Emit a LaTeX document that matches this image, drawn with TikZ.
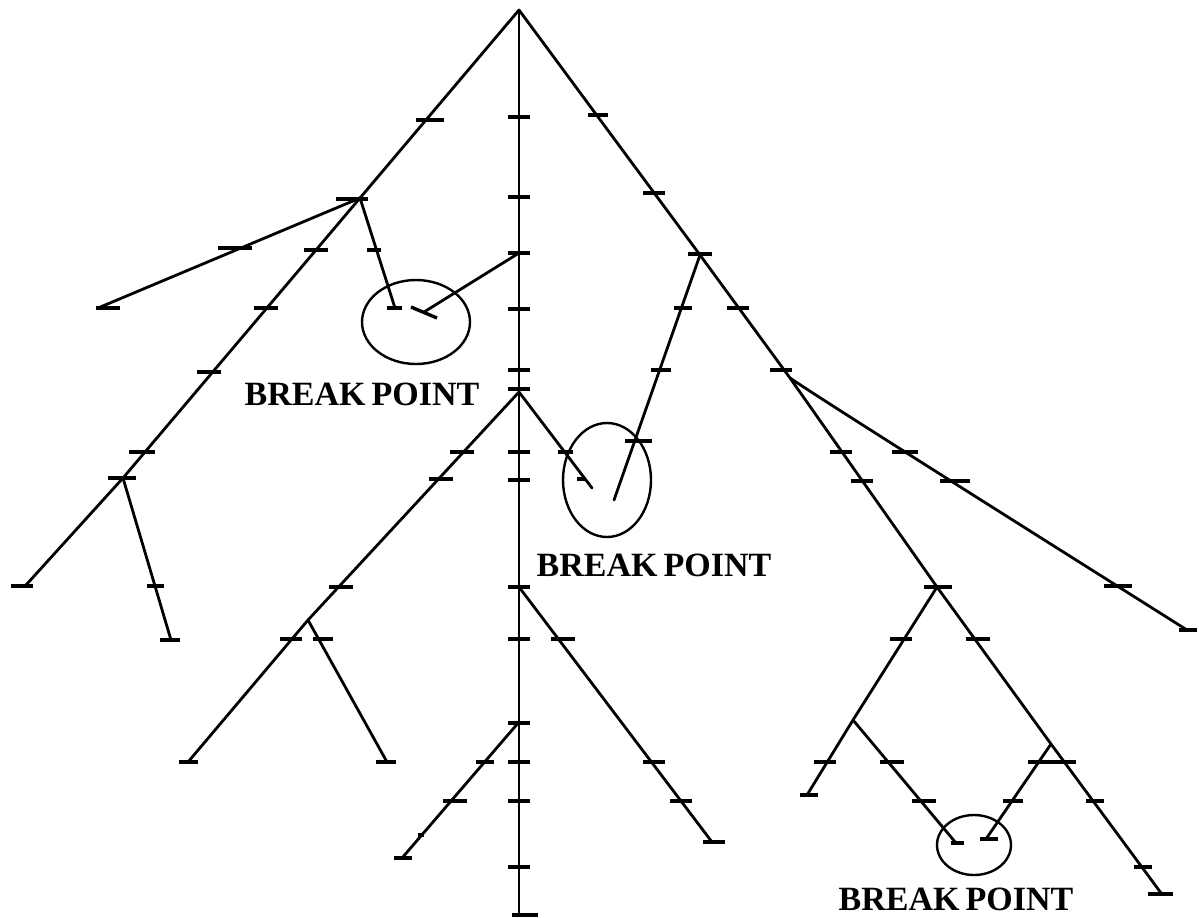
\documentclass[tikz,border=0pt]{standalone}
\usepackage{fontspec}
\setmainfont{Liberation Serif}
\usetikzlibrary{shapes.geometric}
\newcommand{\tk}[3][22]{\draw[tk] ({#2-#1/2},#3) -- ++(#1,0);}
\newcommand{\bpfont}{\fontsize{17}{17}\selectfont\bfseries\spaceskip=0.18em\relax}
\begin{document}
\begin{tikzpicture}[x=0.5pt,y=-0.5pt,
  br/.style={line width=1.4pt, line cap=round, line join=round},
  tk/.style={line width=1.7pt},
  bp/.style={draw, ellipse, line width=1.2pt, inner sep=0pt},
  lbl/.style={font=\bpfont, inner sep=0pt}]
\fill[white] (0,0) rectangle (1199,917);
\useasboundingbox (0,0) rectangle (1199,917);
% ---- coordinates
\coordinate (A) at (519,10);
\coordinate (T) at (519,915);
\coordinate (J1) at (360,198);
\coordinate (L1) at (98,308);
\coordinate (J2) at (123,478);
\coordinate (L2) at (26,585);
\coordinate (L3) at (171,640);
\coordinate (B1) at (395,308);
\coordinate (Tb) at (519,253);
\coordinate (B2) at (424,312);
\coordinate (J3) at (519,392);
\coordinate (J3L) at (308,620);
\coordinate (L4) at (188,762);
\coordinate (L5) at (387,762);
\coordinate (B3) at (592,488);
\coordinate (J4) at (519,587);
\coordinate (L6) at (712,842);
\coordinate (J9) at (519,722);
\coordinate (L7) at (402,858);
\coordinate (R1) at (700,255);
\coordinate (B4) at (614,500);
\coordinate (J5) at (790,378);
\coordinate (L8) at (1187,630);
\coordinate (J6) at (937,587);
\coordinate (J7) at (853,720);
\coordinate (L9) at (807,795);
\coordinate (B5) at (956,843);
\coordinate (J8) at (1051,744);
\coordinate (L10) at (1161,893);
\coordinate (B6) at (986,839);
% ---- branches
\draw[br] (A) -- (T);
\draw[br] (A) -- (J1) -- (J2) -- (L2);
\draw[br] (J1) -- (L1);
\draw[br] (J2) -- (L3);
\draw[br] (J1) -- (B1);
\draw[br] (Tb) -- (B2);
\draw[br] (J3) -- (J3L) -- (L4);
\draw[br] (J3L) -- (L5);
\draw[br] (J3) -- (B3);
\draw[br] (J4) -- (L6);
\draw[br] (J9) -- (L7);
\draw[br] (A) -- (R1) -- (J5) -- (J6) -- (J8) -- (L10);
\draw[br] (R1) -- (B4);
\draw[br] (J5) .. controls (830,405) and (1000,512) .. (L8);
\draw[br] (J6) -- (J7) -- (L9);
\draw[br] (J7) -- (B5);
\draw[br] (J8) -- (B6);
% ---- ticks on the trunk
\foreach \y in {117,197,253,309,370,389,452,480,587,639,723,762,801,867}{\tk{519}{\y}}
\tk[26]{525}{915}
% ---- ticks, upper left
\tk[28]{430}{120}
\tk[32]{352}{199}
\tk[34]{235}{248}
\tk[24]{108}{308}
\tk[24]{316}{250}
\tk[24]{266}{308}
\tk[24]{209}{372}
\tk[26]{142}{452}
\tk[28]{122}{478}
\tk[22]{22}{586}
\tk[17]{155}{586}
\tk[20]{170}{640}
\tk[14]{374}{250}
\tk[15]{394}{308}
\draw[tk] (411,307) -- (437,318);
% ---- ticks, middle left
\tk[24]{462}{452}
\tk[24]{441}{479}
\tk[24]{341}{587}
\tk[22]{291}{639}
\tk[20]{323}{639}
\tk[19]{188}{762}
\tk[20]{386}{762}
\tk[15]{565}{452}
\tk[9]{581}{479}
% ---- ticks, lower trunk branches
\tk[24]{563}{639}
\tk[22]{654}{762}
\tk[22]{681}{801}
\tk[22]{714}{842}
\tk[18]{485}{762}
\tk[24]{455}{801}
\tk[6]{421}{835}
\tk[18]{403}{858}
% ---- ticks, right
\tk[20]{598}{115}
\tk[22]{654}{193}
\tk[24]{700}{254}
\tk[18]{683}{308}
\tk[20]{661}{370}
\tk[27]{638}{441}
\tk[22]{738}{308}
\tk[22]{781}{370}
\tk[22]{841}{452}
\tk[22]{862}{481}
\tk[28]{938}{587}
\tk[26]{905}{452}
\tk[30]{955}{481}
\tk[28]{1118}{586}
\tk[18]{1188}{630}
\tk[22]{901}{639}
\tk[22]{825}{762}
\tk[18]{809}{795}
\tk[24]{892}{762}
\tk[24]{924}{801}
\tk[13]{957}{843}
\tk[24]{978}{639}
\tk[48]{1052}{762}
\tk[18]{1095}{801}
\tk[18]{1143}{867}
\tk[25]{1160}{894}
\tk[20]{1013}{801}
\tk[18]{989}{839}
% ---- break points
\node[bp, minimum width=54pt, minimum height=42pt] (E1) at (416,322) {};
\node[bp, minimum width=44pt, minimum height=57pt] (E2) at (607,480) {};
\node[bp, minimum width=37pt, minimum height=30pt] (E3) at (974,845) {};
\node[lbl] (T1) at (362,394) {BREAK POINT};
\node[lbl] (T2) at (654,565) {BREAK POINT};
\node[lbl] (T3) at (956,899) {BREAK POINT};
\end{tikzpicture}
\end{document}
